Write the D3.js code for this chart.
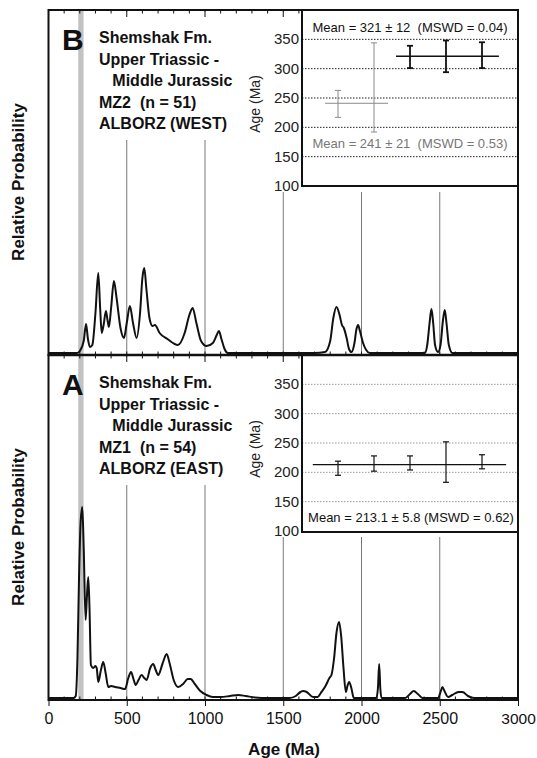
<!DOCTYPE html>
<html>
<head>
<meta charset="utf-8">
<script src="https://cdn.jsdelivr.net/npm/d3@7"></script>
<style>
  body { margin: 0; background: #fff; }
  text { font-family: "Liberation Sans", Arial, Helvetica, sans-serif; white-space: pre; }
</style>
</head>
<body>
<script>
// probability density curves (age in Ma, relative probability in arbitrary units)
var topAge  = [0, 150, 182, 200, 225, 240, 252, 265, 280, 300, 318, 330, 340, 352, 367, 377, 386, 400, 418, 435, 460, 482, 500, 520, 540, 563, 585, 600, 612, 625, 645, 665, 680, 710, 760, 827, 870, 900, 921, 945, 975, 1010, 1050, 1075, 1089, 1105, 1125, 1146,
               1700, 1767, 1800, 1820, 1840, 1860, 1875, 1887, 1905, 1920, 1936, 1955, 1968, 1978, 1990, 2010, 2030, 2053,
               2404, 2420, 2435, 2447, 2458, 2470, 2489, 2505, 2520, 2532, 2543, 2558, 2581, 3000];
var topProb = [0, 0, 0, 2, 12, 29, 14, 6, 8, 40, 80, 45, 20, 28, 42, 33, 26, 45, 72, 55, 25, 15, 30, 47, 30, 15, 40, 75, 85, 65, 35, 27, 28, 20, 14, 8, 20, 38, 45, 30, 12, 7, 10, 18, 22, 14, 4, 0,
               0, 1, 12, 35, 46, 38, 28, 25, 15, 4, 1, 10, 24, 28, 22, 10, 3, 0,
               0, 8, 30, 44, 30, 8, 1, 8, 32, 43, 30, 8, 0, 0];

var botAge  = [0, 160, 174, 185, 195, 205, 216, 225, 237, 245, 254, 262, 271, 286, 300, 308, 318, 335, 350, 365, 382, 400, 425, 460, 489, 510, 527, 545, 557, 575, 595, 612, 627, 650, 669, 685, 701, 730, 755, 775, 800, 829, 860, 890, 908, 935, 970, 1010, 1050, 1100, 1160, 1212, 1260, 1320, 1400,
               1540, 1580, 1610, 1627, 1650, 1690, 1720, 1740, 1770, 1795, 1808, 1825, 1840, 1857, 1870, 1885, 1900, 1910, 1921, 1935, 1951,
               2095, 2105, 2113, 2120, 2128, 2280, 2310, 2334, 2360, 2390, 2490, 2505, 2517, 2530, 2553, 2580, 2620, 2645, 2680, 2720, 3000];
var botProb = [0, 0, 2, 40, 120, 175, 191, 150, 78, 100, 121, 90, 33, 30, 32, 30, 16, 28, 36, 25, 11, 12, 11, 10, 9, 20, 26, 18, 13, 18, 23, 20, 18, 30, 34, 28, 23, 35, 44, 34, 18, 11, 14, 19, 19, 14, 7, 3, 1, 1, 2, 3, 2, 0.5, 0,
               0, 2, 6, 7, 6, 1, 1, 5, 12, 20, 23, 40, 65, 76, 62, 30, 6, 12, 16, 10, 0,
               0, 10, 34, 10, 0, 0, 4, 7, 4, 0, 0, 6, 11, 7, 1, 3, 6, 6, 2, 0, 0];

// youngest-grain weighted means (insets)
var topGrainAge = [240, 268, 320, 321, 323];
var topGrainErr = [23, 76, 19, 27, 22];
var topGrainSet = ['old', 'old', 'young', 'young', 'young'];
var topMeanAge  = [241, 321];
var topMeanSet  = ['old', 'young'];
var topMeanFrom = [0.64, 2.61];
var topMeanTo   = [2.39, 5.47];
var topMeanText = ['Mean = 241 ± 21  (MSWD = 0.53)', 'Mean = 321 ± 12  (MSWD = 0.04)'];

var botGrainAge = [207, 215, 216, 217.5, 218];
var botGrainErr = [12, 13, 12, 34.5, 12];
var botMeanAge  = 213.1;
var botMeanFrom = 0.3;
var botMeanTo   = 5.67;
var botMeanText = 'Mean = 213.1 ± 5.8 (MSWD = 0.62)';

var xTicks     = [0, 500, 1000, 1500, 2000, 2500, 3000];
var insetTicks = [100, 150, 200, 250, 300, 350];
var band       = [190, 224];

var topLabel = ['Shemshak Fm.', 'Upper Triassic -', '   Middle Jurassic', 'MZ2  (n = 51)', 'ALBORZ (WEST)'];
var botLabel = ['Shemshak Fm.', 'Upper Triassic -', '   Middle Jurassic', 'MZ1  (n = 54)', 'ALBORZ (EAST)'];

var w = 537, h = 758;
var left = 48.5, right = 518;
var svg = d3.select('body').append('svg')
  .attr('width', w).attr('height', h);

var x = d3.scaleLinear().domain([0, 3000]).range([left, right]);
var minor = d3.range(0, 3001, 100);

function panel(top, bottom, letter, lines, age, prob) {
  var g = svg.append('g');
  var y = d3.scaleLinear().domain([0, 343]).range([bottom - 2, top]);

  // grid lines
  g.selectAll('line.grid').data(xTicks.slice(1, -1)).enter().append('line')
    .attr('x1', d => x(d)).attr('x2', d => x(d))
    .attr('y1', top).attr('y2', bottom)
    .attr('stroke', '#555').attr('stroke-width', 0.8);

  // white boxes behind text block and inset
  g.append('rect').attr('x', 94).attr('y', top + 2).attr('width', 156).attr('height', 128).attr('fill', '#fff');
  g.append('rect').attr('x', 248).attr('y', top + 2).attr('width', right - 248).attr('height', 180).attr('fill', '#fff');

  // gray age band
  g.append('rect')
    .attr('x', x(band[0])).attr('y', top)
    .attr('width', x(band[1]) - x(band[0])).attr('height', bottom - top)
    .attr('fill', '#c2c2c2');

  // curve
  var line = d3.line().x((d, i) => x(age[i])).y(d => y(d)).curve(d3.curveMonotoneX);
  g.append('path').datum(prob)
    .attr('d', line)
    .attr('fill', 'none').attr('stroke', '#111').attr('stroke-width', 2);

  // frame
  g.append('rect').attr('x', left).attr('y', top).attr('width', right - left).attr('height', bottom - top)
    .attr('fill', 'none').attr('stroke', '#111').attr('stroke-width', 2);

  // ticks
  g.selectAll('line.tt').data(minor).enter().append('line')
    .attr('x1', d => x(d)).attr('x2', d => x(d))
    .attr('y1', top).attr('y2', d => top + (d % 500 === 0 ? 7 : 3.5))
    .attr('stroke', '#111').attr('stroke-width', 1);
  g.selectAll('line.bt').data(minor).enter().append('line')
    .attr('x1', d => x(d)).attr('x2', d => x(d))
    .attr('y1', bottom).attr('y2', bottom - 3.5)
    .attr('stroke', '#111').attr('stroke-width', 1);

  // panel letter and text
  g.append('text').text(letter)
    .attr('x', 62).attr('y', top + 40)
    .attr('font-size', 30).attr('font-weight', 'bold').attr('fill', '#111');
  g.selectAll('text.lab').data(lines).enter().append('text')
    .text(d => d)
    .attr('x', 99).attr('y', (d, i) => top + 33 + i * 21.5)
    .attr('font-size', 16).attr('font-weight', 'bold').attr('fill', '#111');

  // y title
  g.append('text').text('Relative Probability')
    .attr('transform', 'translate(24,' + (top + 172) + ') rotate(-90)')
    .attr('text-anchor', 'middle')
    .attr('font-size', 17).attr('font-weight', 'bold').attr('fill', '#111');
  return g;
}

function inset(g, top, grid) {
  var ix = d3.scaleLinear().domain([0, 6]).range([302, right]);
  var iy = d3.scaleLinear().domain([100, 400]).range([top + 176, top]);
  g.append('rect').attr('x', 302).attr('y', top).attr('width', right - 302).attr('height', 176)
    .attr('fill', '#fff');
  g.selectAll('line.ig').data(insetTicks.slice(1)).enter().append('line')
    .attr('x1', 302).attr('x2', right)
    .attr('y1', d => iy(d)).attr('y2', d => iy(d))
    .attr('stroke', grid).attr('stroke-width', 1).attr('stroke-dasharray', '1.5,1.5');
  g.selectAll('text.it').data(insetTicks).enter().append('text')
    .text(d => d)
    .attr('x', 299).attr('y', d => iy(d) + 5)
    .attr('text-anchor', 'end')
    .attr('font-size', 15).attr('fill', '#222');
  g.append('text').text('Age (Ma)')
    .attr('transform', 'translate(260,' + (top + 94) + ') rotate(-90)')
    .attr('text-anchor', 'middle')
    .attr('font-size', 14).attr('fill', '#222');
  return { x: ix, y: iy };
}

function errorBars(g, s, ages, errs, colorOf, widthOf) {
  ages.forEach(function(a, i) {
    var cx = s.x(i + 1), c = colorOf(i), sw = widthOf(i);
    var y0 = s.y(a - errs[i]), y1 = s.y(a + errs[i]);
    g.append('line').attr('x1', cx).attr('x2', cx).attr('y1', y0).attr('y2', y1)
      .attr('stroke', c).attr('stroke-width', sw);
    [y0, y1].forEach(function(yy) {
      g.append('line').attr('x1', cx - 3).attr('x2', cx + 3).attr('y1', yy).attr('y2', yy)
        .attr('stroke', c).attr('stroke-width', sw);
    });
  });
}

// ---- top panel (B)
var gTop = panel(10, 355, 'B', topLabel, topAge, topProb);
var sTop = inset(gTop, 10, '#222');
var setColor = { old: '#8a8a8a', young: '#111' };
topMeanAge.forEach(function(m, i) {
  gTop.append('line')
    .attr('x1', sTop.x(topMeanFrom[i])).attr('x2', sTop.x(topMeanTo[i]))
    .attr('y1', sTop.y(m)).attr('y2', sTop.y(m))
    .attr('stroke', setColor[topMeanSet[i]]).attr('stroke-width', topMeanSet[i] === 'old' ? 1 : 1.5);
});
errorBars(gTop, sTop, topGrainAge, topGrainErr,
  i => setColor[topGrainSet[i]], i => topGrainSet[i] === 'old' ? 1 : 1.8);
gTop.append('text').text(topMeanText[1])
  .attr('x', 410).attr('y', 32).attr('text-anchor', 'middle')
  .attr('font-size', 13).attr('fill', '#111');
gTop.append('text').text(topMeanText[0])
  .attr('x', 410).attr('y', 148).attr('text-anchor', 'middle')
  .attr('font-size', 13).attr('fill', '#777');
gTop.append('rect').attr('x', 302).attr('y', 10).attr('width', right - 302).attr('height', 176)
  .attr('fill', 'none').attr('stroke', '#111').attr('stroke-width', 2);

// ---- bottom panel (A)
var gBot = panel(355, 700, 'A', botLabel, botAge, botProb);
var sBot = inset(gBot, 355, '#999');
gBot.append('line')
  .attr('x1', sBot.x(botMeanFrom)).attr('x2', sBot.x(botMeanTo))
  .attr('y1', sBot.y(botMeanAge)).attr('y2', sBot.y(botMeanAge))
  .attr('stroke', '#111').attr('stroke-width', 1.2);
errorBars(gBot, sBot, botGrainAge, botGrainErr, i => '#111', i => 1.2);
gBot.append('text').text(botMeanText)
  .attr('x', 411).attr('y', 522).attr('text-anchor', 'middle')
  .attr('font-size', 13).attr('fill', '#111');
gBot.append('rect').attr('x', 302).attr('y', 355).attr('width', right - 302).attr('height', 177)
  .attr('fill', 'none').attr('stroke', '#111').attr('stroke-width', 2);

// divider between panels
svg.append('line').attr('x1', left).attr('x2', right).attr('y1', 355).attr('y2', 355)
  .attr('stroke', '#111').attr('stroke-width', 2.5);

// bottom x axis
var axis = d3.axisBottom(x).tickValues(xTicks).tickFormat(d3.format('d')).tickSize(6).tickPadding(7);
var ax = svg.append('g').attr('transform', 'translate(0,700)').call(axis);
ax.select('.domain').remove();
ax.selectAll('line').attr('stroke', '#111');
ax.selectAll('text')
  .attr('font-size', 16).attr('fill', '#111')
  .style('font-family', '"Liberation Sans", Arial, sans-serif');
ax.selectAll('.tick:last-of-type text').attr('font-size', 15.5);

svg.append('text').text('Age (Ma)')
  .attr('x', 284).attr('y', 755).attr('text-anchor', 'middle')
  .attr('font-size', 17).attr('font-weight', 'bold').attr('fill', '#111');
</script>
</body>
</html>
